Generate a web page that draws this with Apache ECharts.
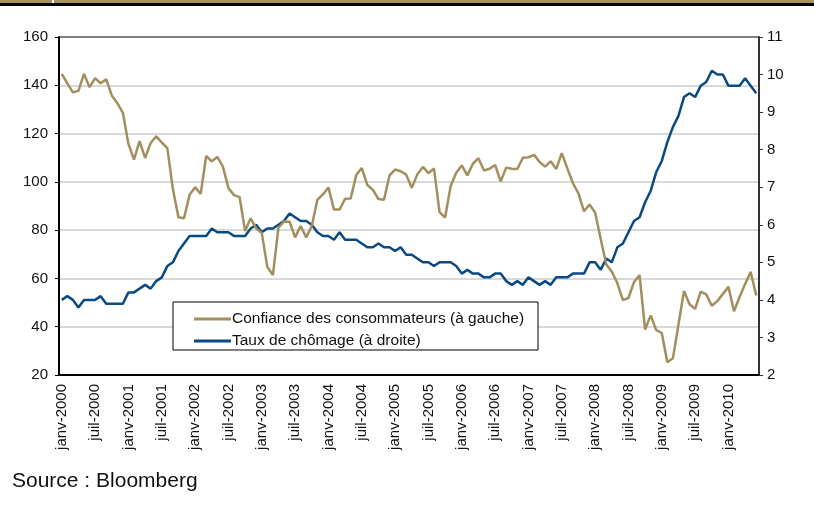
<!DOCTYPE html>
<html>
<head>
<meta charset="utf-8">
<script src="https://cdn.jsdelivr.net/npm/echarts@6/dist/echarts.min.js"></script>
<style>
  html, body { margin: 0; padding: 0; background: #fff; }
  #chart { width: 814px; height: 508px; }
</style>
</head>
<body>
<div id="chart"></div>
<script>
  // mois : janv-2000 .. juin-2010
  var monthNames = ['janv', 'févr', 'mars', 'avr', 'mai', 'juin', 'juil', 'août', 'sept', 'oct', 'nov', 'déc'];
  var years = [2000, 2001, 2002, 2003, 2004, 2005, 2006, 2007, 2008, 2009, 2010];
  var lastMonthCount = 6;

  var months = [];
  years.forEach(function (y, yi) {
    var n = yi === years.length - 1 ? lastMonthCount : 12;
    for (var m = 0; m < n; m++) months.push(monthNames[m] + '-' + y);
  });

  // Confiance des consommateurs (axe de gauche)
  var confiance = [
    144.7, 140.8, 137.1, 137.7, 144.7, 139.2, 143.0, 140.8, 142.5, 135.8, 132.6, 128.6,
    115.7, 109.2, 116.9, 109.9, 116.1, 118.9, 116.3, 114.0, 97.0, 85.3, 84.9, 94.6,
    97.8, 95.0, 110.7, 108.5, 110.3, 106.3, 97.4, 94.5, 93.7, 79.6, 84.9, 80.7,
    78.8, 64.8, 61.4, 81.0, 83.6, 83.5, 77.0, 81.7, 77.0, 81.7, 92.5, 94.8,
    97.7, 88.5, 88.5, 93.0, 93.1, 102.8, 105.7, 98.7, 96.7, 92.9, 92.6, 102.7,
    105.1, 104.4, 103.0, 97.5, 103.1, 106.2, 103.6, 105.5, 87.5, 85.2, 98.3, 103.8,
    106.8, 102.7, 107.5, 109.8, 104.7, 105.4, 107.0, 100.2, 105.9, 105.4, 105.3, 110.0,
    110.2, 111.2, 108.2, 106.3, 108.5, 105.3, 111.9, 105.6, 99.5, 95.2, 87.8, 90.6,
    87.3, 76.4, 65.9, 62.8, 58.1, 51.0, 51.9, 58.5, 61.4, 38.8, 44.7, 38.6,
    37.4, 25.3, 26.9, 40.8, 54.8, 49.3, 47.4, 54.5, 53.4, 48.7, 50.6, 53.6,
    56.5, 46.4, 52.3, 57.7, 62.7, 52.9
  ];

  // Taux de chômage (axe de droite)
  var chomage = [
    4.0, 4.1, 4.0, 3.8, 4.0, 4.0, 4.0, 4.1, 3.9, 3.9, 3.9, 3.9,
    4.2, 4.2, 4.3, 4.4, 4.3, 4.5, 4.6, 4.9, 5.0, 5.3, 5.5, 5.7,
    5.7, 5.7, 5.7, 5.9, 5.8, 5.8, 5.8, 5.7, 5.7, 5.7, 5.9, 6.0,
    5.8, 5.9, 5.9, 6.0, 6.1, 6.3, 6.2, 6.1, 6.1, 6.0, 5.8, 5.7,
    5.7, 5.6, 5.8, 5.6, 5.6, 5.6, 5.5, 5.4, 5.4, 5.5, 5.4, 5.4,
    5.3, 5.4, 5.2, 5.2, 5.1, 5.0, 5.0, 4.9, 5.0, 5.0, 5.0, 4.9,
    4.7, 4.8, 4.7, 4.7, 4.6, 4.6, 4.7, 4.7, 4.5, 4.4, 4.5, 4.4,
    4.6, 4.5, 4.4, 4.5, 4.4, 4.6, 4.6, 4.6, 4.7, 4.7, 4.7, 5.0,
    5.0, 4.8, 5.1, 5.0, 5.4, 5.5, 5.8, 6.1, 6.2, 6.6, 6.9, 7.4,
    7.7, 8.2, 8.6, 8.9, 9.4, 9.5, 9.4, 9.7, 9.8, 10.1, 10.0, 10.0,
    9.7, 9.7, 9.7, 9.9, 9.7, 9.5
  ];

  var gold = '#A38F5E';
  var blue = '#0A4A82';
  var font = 'Liberation Sans, Arial, sans-serif';

  var chart = echarts.init(document.getElementById('chart'), null, { renderer: 'canvas' });

  var option = {
    animation: false,
    backgroundColor: '#fff',
    grid: { left: 59, right: 55, top: 37, bottom: 133, containLabel: false },
    graphic: [
      { type: 'rect', shape: { x: 0, y: 0, width: 814, height: 3 }, style: { fill: '#A6925F' } },
      { type: 'rect', shape: { x: 52, y: 0, width: 2, height: 3 }, style: { fill: '#fff' } },
      { type: 'rect', shape: { x: 0, y: 3, width: 814, height: 3 }, style: { fill: '#000' } },
      { type: 'rect', z: 5, shape: { x: 173, y: 302, width: 365, height: 48 },
        style: { fill: '#fff', stroke: '#000', lineWidth: 1 } },
      { type: 'text', left: 12, top: 471,
        style: { text: 'Source : Bloomberg', font: '21px ' + font, fill: '#111' } }
    ],
    legend: {
      z: 10,
      orient: 'vertical',
      left: 189,
      top: 306,
      itemWidth: 37,
      itemHeight: 3,
      itemGap: 6,
      icon: 'rect',
      textStyle: { fontFamily: font, fontSize: 15.5, color: '#111', padding: [0, 0, 0, -4] },
      data: [
        { name: 'Confiance des consommateurs (à gauche)', itemStyle: { color: gold } },
        { name: 'Taux de chômage (à droite)', itemStyle: { color: blue } }
      ]
    },
    xAxis: {
      type: 'category',
      data: months,
      boundaryGap: true,
      axisLine: { lineStyle: { color: '#000', width: 2 } },
      axisTick: { interval: 5, length: 5, lineStyle: { color: '#000', width: 1 } },
      axisLabel: {
        interval: 5,
        rotate: 90,
        margin: 9,
        fontFamily: font,
        fontSize: 15,
        color: '#111'
      },
      splitLine: { show: false }
    },
    yAxis: [
      {
        type: 'value',
        min: 20,
        max: 160,
        interval: 20,
        position: 'left',
        axisLine: { show: true, lineStyle: { color: '#000', width: 2 } },
        axisTick: { show: true, length: 4, lineStyle: { color: '#000' } },
        axisLabel: { margin: 11, fontFamily: font, fontSize: 15, color: '#111' },
        splitLine: {
          show: true,
          lineStyle: {
            color: ['#cccccc', '#cccccc', '#cccccc', '#cccccc', '#cccccc', '#cccccc', '#cccccc', '#555'],
            width: 1.5
          }
        }
      },
      {
        type: 'value',
        min: 2,
        max: 11,
        interval: 1,
        position: 'right',
        axisLine: { show: true, lineStyle: { color: '#333', width: 2 } },
        axisTick: { show: true, length: 4, lineStyle: { color: '#333' } },
        axisLabel: { margin: 8, fontFamily: font, fontSize: 15, color: '#111' },
        splitLine: { show: false }
      }
    ],
    series: [
      {
        name: 'Confiance des consommateurs (à gauche)',
        type: 'line',
        yAxisIndex: 0,
        data: confiance,
        symbol: 'none',
        lineStyle: { color: gold, width: 2.5 },
        itemStyle: { color: gold },
        z: 3
      },
      {
        name: 'Taux de chômage (à droite)',
        type: 'line',
        yAxisIndex: 1,
        data: chomage,
        symbol: 'none',
        lineStyle: { color: blue, width: 2.5 },
        itemStyle: { color: blue },
        z: 2
      }
    ]
  };

  chart.setOption(option);
</script>
</body>
</html>
